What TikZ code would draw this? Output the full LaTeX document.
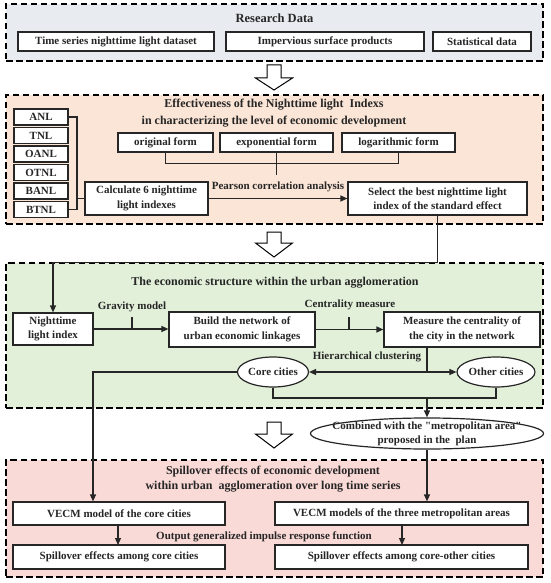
\documentclass[tikz,border=0pt]{standalone}
\usepackage{fontspec}
\setmainfont{Liberation Serif}
\usetikzlibrary{arrows.meta,shapes.geometric,calc}
\definecolor{ink}{HTML}{262626}
\definecolor{gA}{HTML}{E8ECF0}
\definecolor{gB}{HTML}{FBE5D6}
\definecolor{gC}{HTML}{E2F0D9}
\definecolor{gD}{HTML}{FADAD7}
\tikzset{
  grp/.style={draw=black, line width=1.7pt, dash pattern=on 6.5pt off 3.5pt, inner sep=0pt},
  bx/.style={draw=ink, line width=1.2pt, fill=white, align=center, inner sep=0pt,
    font=\fontsize{11}{14.5}\selectfont\bfseries, text=ink},
  ell/.style={ellipse, draw=ink, line width=1.2pt, fill=white, inner sep=0pt},
  etxt/.style={align=center, inner sep=0pt, font=\fontsize{11}{14}\selectfont\bfseries, text=ink},
  ttl/.style={align=center, inner sep=0pt, font=\fontsize{12}{16}\selectfont\bfseries, text=ink},
  lbl/.style={inner sep=0pt, font=\fontsize{11}{13}\selectfont\bfseries, text=ink},
  ln/.style={draw=ink, line width=1.2pt},
  arr/.style={ln, -{Triangle[length=7pt,width=6pt]}},
  darr/.style={ln, {Triangle[length=7pt,width=6pt]}-{Triangle[length=7pt,width=6pt]}},
  blk/.style={draw=black, line width=1pt, fill=white, line join=miter}
}
\newcommand{\blockarrow}[3]{%
  \draw[blk] (267,#1) -- (281,#1) -- (281,#2) -- (292.5,#2) -- (274,#3) -- (255.5,#2) -- (267,#2) -- cycle;}
\begin{document}
\begin{tikzpicture}[x=1pt,y=-1pt]
\useasboundingbox (0,0) rectangle (550,583);
% ---------- group 1 ----------
\node[grp, fill=gA, minimum width=537pt, minimum height=57pt] (g1) at (274.5,32.5) {};
\node[ttl, font=\fontsize{12.5}{16}\selectfont\bfseries] (t1) at (274.5,18) {Research Data};
\node[bx, minimum width=196pt, minimum height=19pt] (d1) at (116,41.5) {Time series nighttime light dataset};
\node[bx, minimum width=198pt, minimum height=19pt] (d2) at (325,41.5) {Impervious surface products};
\node[bx, minimum width=98pt, minimum height=19pt] (d3) at (482,41.5) {Statistical data};
\blockarrow{65}{78}{90}
% ---------- group 2 ----------
\node[grp, fill=gB, minimum width=537pt, minimum height=129pt] (g2) at (274.5,159.5) {};
\node[ttl] (t2a) at (274,105) {Effectiveness of the Nighttime light~ Indexs};
\node[ttl] (t2b) at (274,122) {in characterizing the level of economic development};
\foreach \n/\y in {ANL/117,TNL/135.5,OANL/154,OTNL/172.5,BANL/191,BTNL/209.5}{
  \node[bx, minimum width=54pt, minimum height=16pt] (\n) at (41,\y) {\n};
}
\node[bx, minimum width=123pt, minimum height=33pt] (calc) at (146.5,198.5) {Calculate 6 nighttime\\light indexes};
\node[bx, minimum width=179pt, minimum height=33pt] (sel) at (437.5,198.5) {Select the best nighttime light\\index of the standard effect};
\node[bx, minimum width=95pt, minimum height=19pt] (orig) at (165.5,142.5) {original form};
\node[bx, minimum width=113pt, minimum height=19pt] (expo) at (276.5,142.5) {exponential form};
\node[bx, minimum width=113pt, minimum height=19pt] (loga) at (398.5,142.5) {logarithmic form};
\coordinate (br) at (77,117);
\draw[ln] (ANL.east) -- (br) -- (br |- BTNL.east) -- (BTNL.east);
\draw[ln] (br |- calc.west) -- (calc.west);
\draw[ln] (orig.south) -- ++(0,11) -| (loga.south);
\coordinate (pt) at (276.5,175);
\draw[ln] (expo.south) -- (pt);
\node[lbl] (pear) at (278,187) {Pearson correlation analysis};
\draw[arr] (calc.east) -- (sel.west);
\blockarrow{232}{243}{257}
% ---------- group 3 ----------
\node[grp, fill=gC, minimum width=537pt, minimum height=145pt] (g3) at (274.5,335.5) {};
\node[ttl] (t3) at (275,283) {The economic structure within the urban agglomeration};
\node[bx, minimum width=80pt, minimum height=32pt] (nli) at (53,329) {Nighttime\\light index};
\node[bx, minimum width=146pt, minimum height=35pt] (build) at (242,329.5) {Build the network of\\urban economic linkages};
\node[bx, minimum width=156pt, minimum height=35pt] (meas) at (462,329.5) {Measure the centrality of\\the city in the network};
\node[lbl] (grav) at (132,307) {Gravity model};
\node[lbl] (cent) at (350,305) {Centrality measure};
\node[lbl] (hier) at (367,357) {Hierarchical clustering};
\node[ell, minimum width=71pt, minimum height=30pt] (core) at (273,372) {};
\node[etxt] (coret) at (core.center) {Core cities};
\node[ell, minimum width=78pt, minimum height=30pt] (other) at (496,372) {};
\node[etxt] (othert) at (other.center) {Other cities};
\draw[arr] (nli.east) -- (build.west |- nli.east);
\draw[ln] (132,317) -- (132,329);
\draw[arr] (build.east) -- (meas.west);
\draw[ln] (349,317) -- (349,329.5);
\draw[darr] (core.east) -- (other.west);
\draw[ln] (427,347) -- (427,372);
\draw[arr] (sel.south) -- (sel.south |- g3.north) -| (nli.north);
\coordinate (jn) at (427,398);
\draw[ln] (core.south) |- (jn) -| (other.south);
\blockarrow{422}{434}{448}
% ---------- group 4 ----------
\node[grp, fill=gD, minimum width=537pt, minimum height=117pt] (g4) at (274.5,518.5) {};
\node[ttl] (t4a) at (273,472) {Spillover effects of economic development};
\node[ttl] (t4b) at (273,487) {within urban~ agglomeration over long time series};
\node[ell, minimum width=233pt, minimum height=31pt] (comb) at (427,433.5) {};
\node[etxt] (combt) at (comb.center) {Combined with the \textquotedbl metropolitan area\textquotedbl\\proposed in the~ plan};
\node[bx, minimum width=212pt, minimum height=23pt] (vc) at (119,513.5) {VECM model of the core cities};
\node[bx, minimum width=253pt, minimum height=23pt] (vm) at (401.5,513.5) {VECM models of the three metropolitan areas};
\node[lbl] (outp) at (264,537) {Output generalized impulse response function};
\node[bx, minimum width=212pt, minimum height=24pt] (sc) at (119,557) {Spillover effects among core cities};
\node[bx, minimum width=253pt, minimum height=24pt] (so) at (401.5,557) {Spillover effects among core-other cities};
\draw[arr] (jn) -- (comb.north);
\draw[arr] (comb.south) -- (comb.south |- vm.north);
\coordinate (cl) at (93,372);
\draw[arr] (core.west) -- (cl) -- (cl |- vc.north);
\draw[arr] (118,525) -- (118,545);
\draw[arr] (402,525) -- (402,545);
\end{tikzpicture}
\end{document}
